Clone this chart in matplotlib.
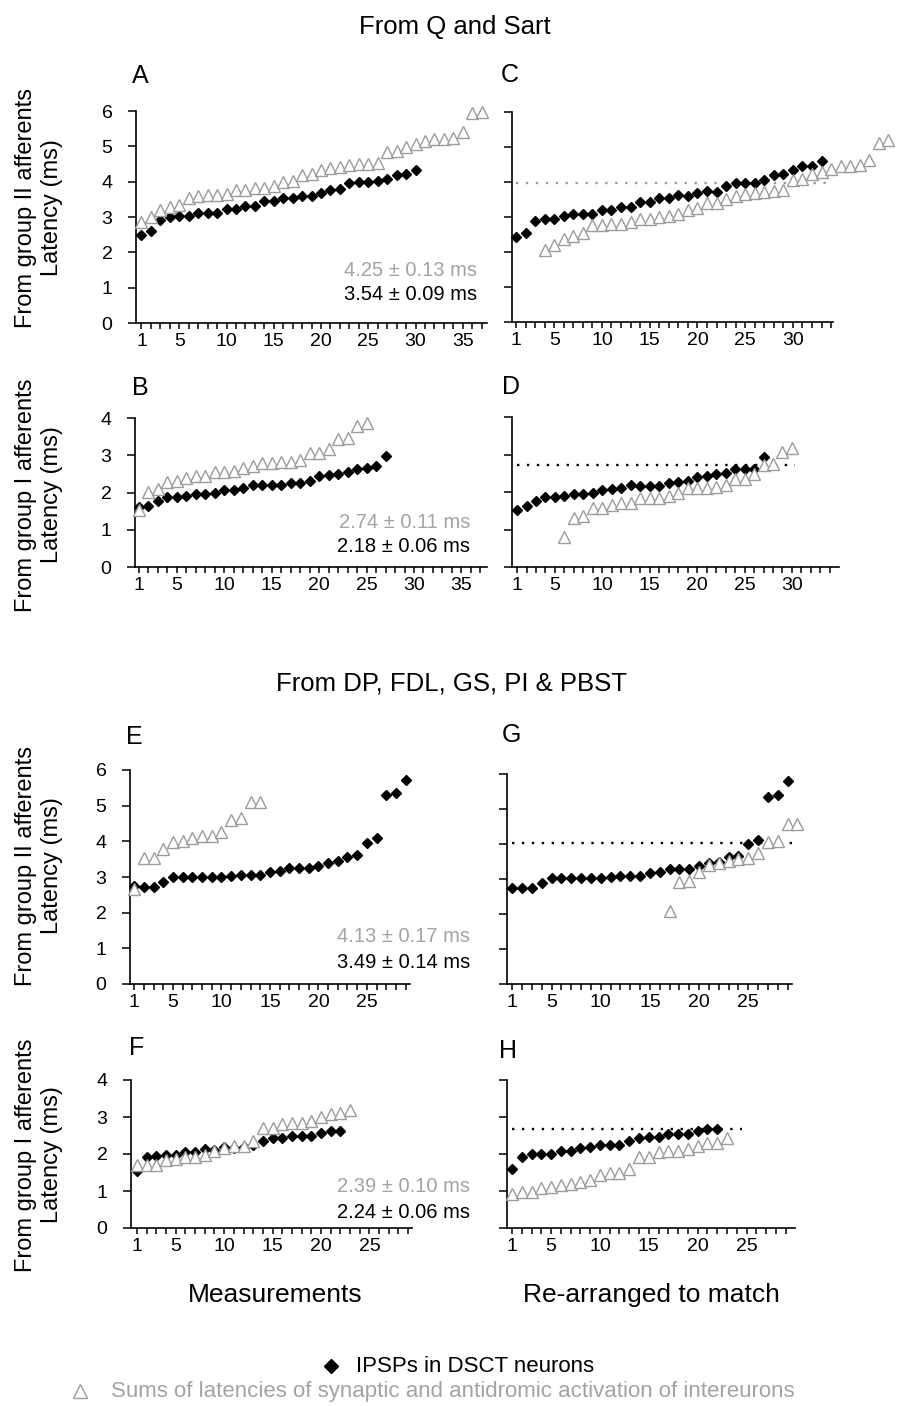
import matplotlib
matplotlib.use("Agg")
import numpy as np
import matplotlib.pyplot as plt
from matplotlib.ticker import FixedLocator, FuncFormatter

plt.rcParams['font.family'] = ['Liberation Sans', 'DejaVu Sans']

W, H = 899, 1406
GRAY = '#9c9c9c'
TXTGRAY = '#a3a3a3'

# ---------------- data (latencies, ms) ----------------
A_ipsp = [2.50, 2.60, 2.92, 2.99, 3.03, 3.04, 3.10, 3.10, 3.12, 3.24, 3.24, 3.31, 3.30, 3.45, 3.45,
          3.55, 3.55, 3.59, 3.60, 3.69, 3.76, 3.79, 3.95, 4.00, 4.00, 4.02, 4.07, 4.18, 4.22, 4.33]
A_sum = [2.87, 2.99, 3.21, 3.29, 3.35, 3.55, 3.59, 3.61, 3.63, 3.66, 3.76, 3.76, 3.83, 3.81, 3.87,
         3.98, 4.02, 4.18, 4.21, 4.32, 4.39, 4.42, 4.47, 4.49, 4.49, 4.53, 4.84, 4.86, 4.97, 5.07,
         5.14, 5.21, 5.21, 5.25, 5.40, 5.93, 5.98]

B_ipsp = [1.60, 1.64, 1.77, 1.87, 1.88, 1.91, 1.97, 1.97, 1.99, 2.07, 2.07, 2.13, 2.20, 2.20, 2.20,
          2.21, 2.26, 2.26, 2.31, 2.43, 2.47, 2.50, 2.54, 2.64, 2.67, 2.71, 2.97]
B_sum = [1.53, 2.02, 2.09, 2.29, 2.31, 2.38, 2.43, 2.43, 2.56, 2.56, 2.58, 2.65, 2.70, 2.80, 2.80,
         2.83, 2.83, 2.88, 3.07, 3.07, 3.17, 3.43, 3.46, 3.78, 3.87]

C_ipsp = [2.43, 2.54, 2.89, 2.93, 2.93, 3.02, 3.08, 3.08, 3.10, 3.21, 3.21, 3.29, 3.29, 3.43, 3.43,
          3.54, 3.54, 3.62, 3.59, 3.69, 3.73, 3.71, 3.90, 3.97, 3.97, 3.97, 4.05, 4.19, 4.24, 4.35,
          4.45, 4.45, 4.60]
C_sum_first = 4
C_sum = [2.07, 2.19, 2.38, 2.46, 2.54, 2.76, 2.78, 2.81, 2.81, 2.86, 2.93, 2.95, 3.00, 3.03, 3.08,
         3.19, 3.27, 3.40, 3.40, 3.52, 3.59, 3.67, 3.70, 3.71, 3.73, 3.76, 4.05, 4.08, 4.24, 4.30,
         4.38, 4.45, 4.45, 4.50, 4.64, 5.12, 5.20]
C_ref = 3.97
C_ref_span = [1, 34]

D_ipsp = [1.52, 1.63, 1.77, 1.86, 1.88, 1.90, 1.96, 1.96, 1.98, 2.05, 2.07, 2.12, 2.19, 2.17, 2.17,
          2.17, 2.23, 2.26, 2.30, 2.41, 2.43, 2.47, 2.52, 2.62, 2.62, 2.62, 2.93]
D_sum_first = 6
D_sum = [0.80, 1.31, 1.36, 1.58, 1.58, 1.65, 1.71, 1.71, 1.85, 1.85, 1.85, 1.90, 1.98, 2.10, 2.10,
         2.12, 2.14, 2.18, 2.35, 2.35, 2.47, 2.72, 2.75, 3.08, 3.17]
D_ref = 2.72
D_ref_span = [1, 30.3]

E_ipsp = [2.75, 2.71, 2.71, 2.85, 2.99, 2.99, 2.99, 2.99, 2.99, 2.99, 3.03, 3.06, 3.06, 3.06, 3.15,
          3.18, 3.26, 3.26, 3.26, 3.32, 3.38, 3.46, 3.57, 3.62, 3.94, 4.08, 5.30, 5.35, 5.72]
E_sum = [2.66, 3.52, 3.52, 3.78, 3.99, 4.02, 4.10, 4.16, 4.16, 4.27, 4.60, 4.65, 5.11, 5.11]

F_ipsp = [1.53, 1.91, 1.95, 1.98, 1.98, 2.05, 2.05, 2.13, 2.11, 2.18, 2.16, 2.20, 2.25, 2.36, 2.43,
          2.43, 2.49, 2.49, 2.49, 2.58, 2.61, 2.61]
F_sum = [1.69, 1.71, 1.69, 1.84, 1.86, 1.91, 1.93, 1.98, 2.07, 2.16, 2.22, 2.22, 2.34, 2.70, 2.70,
         2.81, 2.85, 2.85, 2.90, 3.01, 3.07, 3.10, 3.19]

G_ipsp = [2.75, 2.75, 2.75, 2.90, 3.04, 3.04, 3.04, 3.04, 3.04, 3.04, 3.07, 3.10, 3.10, 3.10, 3.18,
          3.21, 3.30, 3.30, 3.30, 3.37, 3.45, 3.50, 3.64, 3.67, 4.00, 4.11, 5.35, 5.40, 5.80]
G_sum_first = 17
G_sum = [2.10, 2.92, 2.94, 3.21, 3.40, 3.45, 3.52, 3.56, 3.61, 3.73, 4.05, 4.10, 4.57, 4.57]
G_ref = 4.02
G_ref_span = [1, 30]

H_ipsp = [1.60, 1.93, 2.00, 2.00, 2.00, 2.07, 2.07, 2.16, 2.18, 2.23, 2.23, 2.25, 2.34, 2.43, 2.47,
          2.47, 2.53, 2.53, 2.53, 2.61, 2.67, 2.67]
H_sum = [0.93, 0.96, 0.96, 1.08, 1.12, 1.15, 1.19, 1.24, 1.30, 1.44, 1.48, 1.48, 1.59, 1.91, 1.93,
         2.05, 2.07, 2.07, 2.13, 2.22, 2.31, 2.31, 2.43]
H_ref = 2.68
H_ref_span = [1, 24.5]

mean_texts = {
    'A': ('4.25 ± 0.13 ms', '3.54 ± 0.09 ms'),
    'B': ('2.74 ± 0.11 ms', '2.18 ± 0.06 ms'),
    'E': ('4.13 ± 0.17 ms', '3.49 ± 0.14 ms'),
    'F': ('2.39 ± 0.10 ms', '2.24 ± 0.06 ms'),
}

# ---------------- figure ----------------
fig = plt.figure(figsize=(W / 100, H / 100), dpi=100)

TICKFS = 14


def make_ax(left, right, y0, ytop, xlim, ymax, nticks, ylabels):
    ax = fig.add_axes([left / W, 1 - y0 / H, (right - left) / W, (y0 - ytop) / H])
    ax.patch.set_alpha(0)
    ax.set_xlim(*xlim)
    ax.set_ylim(0, ymax)
    for s in ('top', 'right'):
        ax.spines[s].set_visible(False)
    for s in ('left', 'bottom'):
        ax.spines[s].set_linewidth(1.2)
    ticks = list(range(1, nticks + 1))
    ax.xaxis.set_major_locator(FixedLocator(ticks))
    ax.xaxis.set_major_formatter(FuncFormatter(lambda v, p: str(int(v)) if (v == 1 or v % 5 == 0) else ''))
    ax.set_yticks(range(0, ymax + 1))
    if not ylabels:
        ax.set_yticklabels([])
    ax.tick_params(axis='x', direction='out', length=4.5, width=1.1, labelsize=TICKFS, pad=3)
    ax.tick_params(axis='y', direction='out', length=6, width=1.1, labelsize=TICKFS, pad=11)
    return ax


def draw(ax, ipsp, sums, sum_first=1, ipsp_first=1):
    xi = np.arange(ipsp_first, ipsp_first + len(ipsp))
    xs = np.arange(sum_first, sum_first + len(sums))
    ax.plot(xi, ipsp, linestyle='none', marker='D', ms=5.6, color='black', clip_on=False, zorder=3)
    ax.plot(xs, sums, linestyle='none', marker='^', ms=8.5, mfc='white', mec=GRAY, mew=1.0,
            clip_on=False, zorder=4)


def ref(ax, level, span, color):
    ax.plot(span, [level, level], linestyle=(0, (1, 3.2)), lw=1.7, color=color, zorder=2)


axA = make_ax(136, 487, 323, 111, (0.42, 37.56), 6, 37, True)
draw(axA, A_ipsp, A_sum)

axB = make_ax(135, 487, 567, 418, (0.58, 37.7), 4, 37, True)
draw(axB, B_ipsp, B_sum)

axC = make_ax(512, 833, 322, 112, (0.58, 34.2), 6, 34, False)
draw(axC, C_ipsp, C_sum, C_sum_first)
ref(axC, C_ref, C_ref_span, GRAY)

axD = make_ax(512, 839, 567, 417, (0.47, 34.96), 4, 34, False)
draw(axD, D_ipsp, D_sum, D_sum_first)
ref(axD, D_ref, D_ref_span, 'black')

axE = make_ax(130, 410, 984, 770, (0.56, 29.45), 6, 29, True)
draw(axE, E_ipsp, E_sum)

axF = make_ax(131, 412, 1228, 1080, (0.38, 29.4), 4, 29, True)
draw(axF, F_ipsp, F_sum)

axG = make_ax(507, 792, 984, 774, (0.46, 29.45), 6, 29, False)
draw(axG, G_ipsp, G_sum, G_sum_first)
ref(axG, G_ref, G_ref_span, 'black')

axH = make_ax(507, 795, 1228, 1080, (0.49, 29.96), 4, 29, False)
draw(axH, H_ipsp, H_sum)
ref(axH, H_ref, H_ref_span, 'black')

# ---------------- overlay for text (pixel coordinates) ----------------
ov = fig.add_axes([0, 0, 1, 1])
ov.set_xlim(0, W)
ov.set_ylim(H, 0)
ov.axis('off')
ov.patch.set_alpha(0)

ov.text(455, 27, 'From Q and Sart', ha='center', va='center', fontsize=18.5)
ov.text(452, 683, 'From DP, FDL, GS, PI & PBST', ha='center', va='center', fontsize=18.5)

for lab, (x, y) in {'A': (140, 76), 'C': (510, 75), 'B': (140, 388), 'D': (511, 387),
                    'E': (134, 737), 'G': (511, 735), 'F': (137, 1048), 'H': (508, 1051)}.items():
    ov.text(x, y, lab, ha='center', va='center', fontsize=18)

ylab2 = 'From group II afferents\nLatency (ms)'
ylab1 = 'From group I afferents\nLatency (ms)'
for txt, yc in ((ylab2, 208), (ylab1, 495), (ylab2, 866), (ylab1, 1155)):
    ov.text(39, yc, txt, rotation=90, ha='center', va='center', multialignment='center',
            fontsize=17, linespacing=1.2)

for key, (xr, yg) in {'A': (477, 270), 'B': (470, 522), 'E': (470, 937), 'F': (470, 1187)}.items():
    g, b = mean_texts[key]
    ov.text(xr, yg, g, ha='right', va='center', fontsize=14.5, color=TXTGRAY)
    ov.text(xr, yg + 25, b, ha='right', va='center', fontsize=14.5, color='black')

ov.text(275, 1295, 'Measurements', ha='center', va='center', fontsize=19)
ov.text(651, 1295, 'Re-arranged to match', ha='center', va='center', fontsize=19)

# legend
ov.plot([331], [1366], marker='D', ms=7, color='black', linestyle='none')
ov.text(356, 1366, 'IPSPs in DSCT neurons', ha='left', va='center', fontsize=16)
ov.plot([80], [1391], marker='^', ms=10, mfc='white', mec=GRAY, mew=1.0, linestyle='none')
ov.text(111, 1391, 'Sums of latencies of synaptic and antidromic activation of intereurons',
        ha='left', va='center', fontsize=16, color=TXTGRAY)

fig.savefig('out.png', dpi=100)
